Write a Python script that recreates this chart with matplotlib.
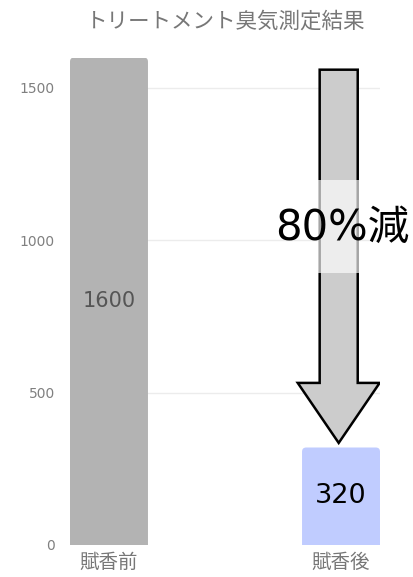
import matplotlib.pyplot as plt
from matplotlib.patches import FancyArrow, FancyBboxPatch, Rectangle

plt.rcParams['font.family'] = ['Noto Sans CJK JP', 'DejaVu Sans']
NUM_FONT = ['DejaVu Sans', 'Noto Sans CJK JP']

categories = ["賦香前", "賦香後"]
values = [1600, 320]
bar_colors = ["#b3b3b3", "#c0ccff"]
value_labels = ["1600", "320"]
label_colors = ["#555555", "#000000"]
yticks = [0, 500, 1000, 1500]
title = "トリートメント臭気測定結果"
reduction = "80%減"

fig = plt.figure(figsize=(4.13, 5.77), dpi=100)
ax = fig.add_axes([70 / 413, 32 / 577, 310 / 413, 487.5 / 577])

x = list(range(len(categories)))
width = 0.336
bars = ax.bar(x, values, width=width, color=bar_colors, zorder=2)

ax.set_xlim(-width / 2, len(categories) - 1 + width / 2)
ax.set_ylim(0, values[0])

# give the bars slightly rounded tops, like the original
for b in bars:
    b.set_visible(False)
    bx, bw, bh = b.get_x(), b.get_width(), b.get_height()
    rp = FancyBboxPatch((bx, -30), bw, bh + 30,
                        boxstyle="round,pad=0,rounding_size=0.018",
                        mutation_aspect=760, facecolor=b.get_facecolor(),
                        edgecolor="none", zorder=2, clip_on=True)
    ax.add_patch(rp)

for xi, v, lab, c, fs in zip(x, values, value_labels, label_colors, [15, 19.5]):
    ax.text(xi, v / 2, lab, ha="center", va="center", fontsize=fs, color=c,
            family=NUM_FONT, zorder=5)

ax.set_yticks(yticks)
ax.set_yticklabels([str(t) for t in yticks], fontsize=10, color="#808080",
                   family=NUM_FONT)
ax.set_xticks(x)
ax.set_xticklabels(categories, fontsize=14, color="#777777")
ax.tick_params(length=0)
ax.tick_params(axis="y", pad=11)
ax.tick_params(axis="x", pad=5)
for s in ax.spines.values():
    s.set_visible(False)
for t in yticks[1:]:
    ax.axhline(t, color="#ececec", lw=1, zorder=0)

# down arrow from before value to after value
ax_x = x[1] - 0.01
top = values[0] - 40
tip = values[1] + 15
head_len = 197
arrow = FancyArrow(ax_x, top, 0, -(top - tip), width=0.164, head_width=0.353,
                   head_length=head_len, length_includes_head=True,
                   facecolor="#cccccc", edgecolor="black", lw=1.8, zorder=3)
ax.add_patch(arrow)

# light band behind the label
ax.add_patch(Rectangle((ax_x - 0.092, 893), 0.184, 305, facecolor="white",
                       alpha=0.65, edgecolor="none", zorder=4))
ax.text(x[1] + 0.005, 1040, reduction, ha="center", va="center", fontsize=30,
        color="black", family=NUM_FONT, zorder=6, clip_on=False)

fig.text(226 / 413, 1 - 22 / 577, title, ha="center", va="center",
         fontsize=15.5, color="#777777")

fig.savefig("out.png", dpi=100)
